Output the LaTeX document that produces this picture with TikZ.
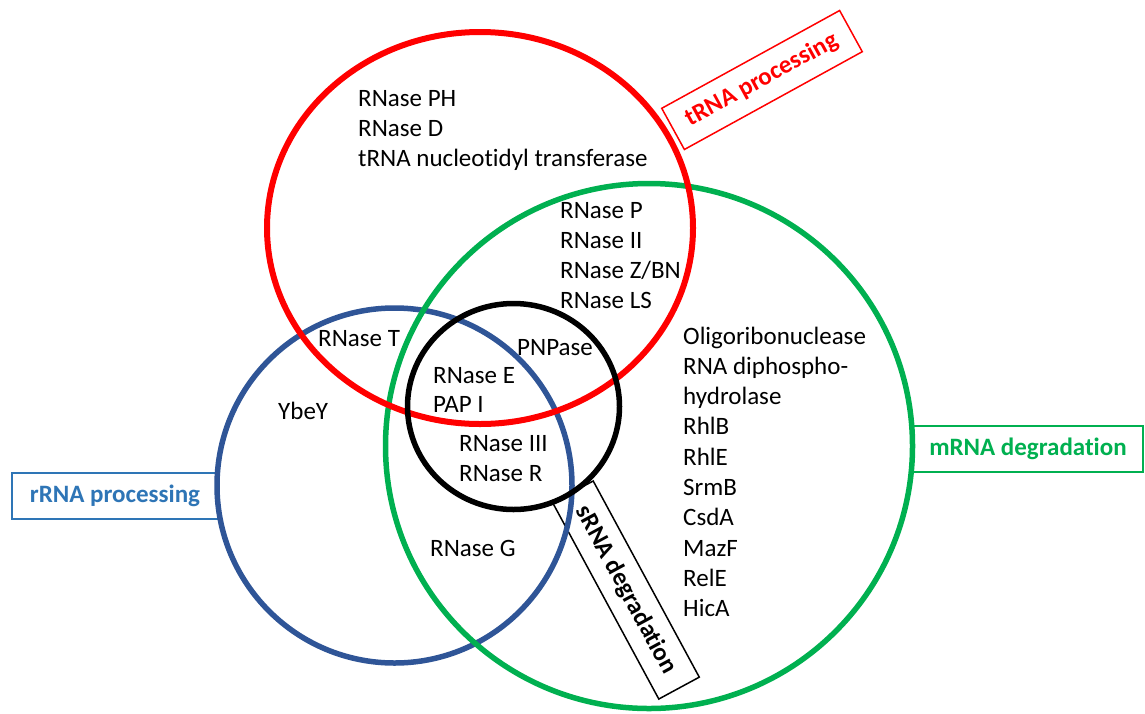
\documentclass[tikz,border=0pt]{standalone}
\usepackage{fontspec}
\setmainfont{Carlito}[Ligatures={NoCommon,NoRare}]
\usetikzlibrary{shapes.geometric}
\definecolor{vred}{RGB}{255,0,0}
\definecolor{vgreen}{RGB}{0,176,80}
\definecolor{vblue}{RGB}{47,85,151}
\definecolor{vbluet}{RGB}{46,117,182}
\tikzset{
  txt/.style={font=\fontsize{25}{30}\selectfont, inner sep=0pt, anchor=base west},
  ring/.style={ellipse, inner sep=0pt, line width=5.5pt},
  labbox/.style={draw, fill=white, line width=1.5pt, inner sep=0pt, font=\bfseries\fontsize{25}{30}\selectfont, align=center}
}
\begin{document}
\begin{tikzpicture}[x=1pt,y=-1pt]
\useasboundingbox (0,0) rectangle (1145,713);
% label boxes (behind rings)
\node[labbox, draw=vred, text=vred, minimum width=203pt, minimum height=47pt, rotate=28.8] (tlab) at (762,80) {tRNA processing};
\node[labbox, draw=vgreen, text=vgreen, minimum width=230pt, minimum height=46pt] (mlab) at (1028,449) {mRNA degradation};
\node[labbox, draw=vbluet, text=vbluet, minimum width=206pt, minimum height=46pt] (rlab) at (115,496) {rRNA processing};
\node[labbox, draw=black, text=black, minimum width=223pt, minimum height=46pt, rotate=-61.6] (slab) at (626,590) {sRNA degradation};
% rings
\node[ring, draw=vblue, minimum width=355pt, minimum height=355pt] (rrna) at (394.5,485.5) {};
\node[ring, draw=vgreen, minimum width=527pt, minimum height=525pt] (mrna) at (649,446) {};
\node[ring, draw=vred, line width=6pt, minimum width=426pt, minimum height=392pt] (trna) at (480,228) {};
\node[ring, draw=black, minimum width=212pt, minimum height=206pt] (srna) at (513.5,406.5) {};
% texts
\node[txt] (a1) at (358,106) {RNase PH};
\node[txt] (a2) at (358,136) {RNase D};
\node[txt] (a3) at (358,166) {tRNA nucleotidyl transferase};
\node[txt] (b1) at (560,218) {RNase P};
\node[txt] (b2) at (560,248) {RNase II};
\node[txt] (b3) at (560,278) {RNase Z/BN};
\node[txt] (b4) at (560,308) {RNase LS};
\node[txt] (c1) at (318,346) {RNase T};
\node[txt] (c2) at (278,419) {YbeY};
\node[txt] (c3) at (517,355) {PNPase};
\node[txt] (c4) at (433,383) {RNase E};
\node[txt] (c5) at (433,412) {PAP I};
\node[txt] (c6) at (459,451) {RNase III};
\node[txt] (c7) at (459,481) {RNase R};
\node[txt] (c8) at (430,556) {RNase G};
\foreach \t [count=\i from 0] in {Oligoribonuclease, RNA diphospho-, hydrolase, RhlB, RhlE, SrmB, CsdA, MazF, RelE, HicA}
  \node[txt] (d\i) at (683,344+30.3*\i) {\t};
\end{tikzpicture}
\end{document}
